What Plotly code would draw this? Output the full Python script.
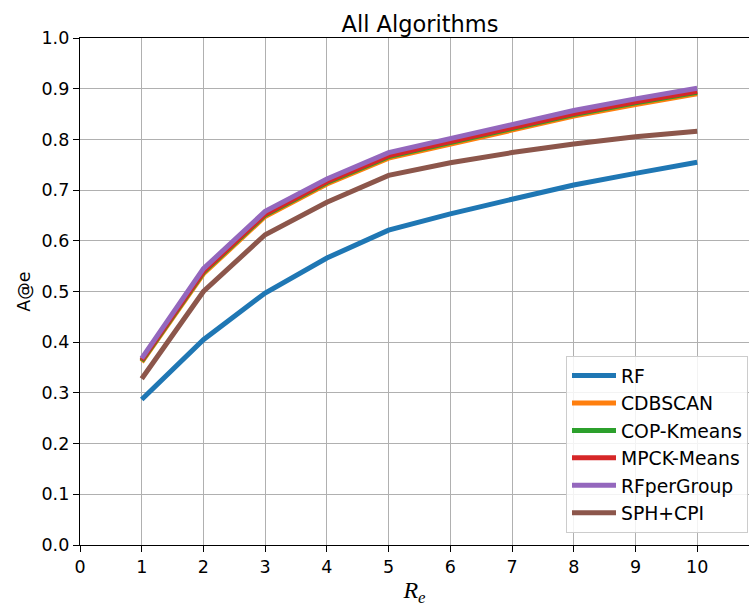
import plotly.graph_objects as go

x_vals = [1, 2, 3, 4, 5, 6, 7, 8, 9, 10]
rf = [0.287, 0.405, 0.497, 0.566, 0.621, 0.653, 0.682, 0.710, 0.733, 0.755]
cdbscan = [0.361, 0.535, 0.648, 0.712, 0.763, 0.791, 0.820, 0.846, 0.869, 0.890]
cop_kmeans = [0.363, 0.538, 0.651, 0.715, 0.766, 0.794, 0.823, 0.849, 0.872, 0.893]
mpck_means = [0.365, 0.540, 0.653, 0.717, 0.768, 0.796, 0.825, 0.851, 0.874, 0.895]
rfpergroup = [0.368, 0.545, 0.658, 0.722, 0.774, 0.802, 0.831, 0.857, 0.880, 0.901]
sph_cpi = [0.328, 0.500, 0.612, 0.676, 0.729, 0.754, 0.774, 0.791, 0.805, 0.816]

series = [
    ("RF", rf, "#1f77b4"),
    ("CDBSCAN", cdbscan, "#ff7f0e"),
    ("COP-Kmeans", cop_kmeans, "#2ca02c"),
    ("MPCK-Means", mpck_means, "#d62728"),
    ("RFperGroup", rfpergroup, "#9467bd"),
    ("SPH+CPI", sph_cpi, "#8c564b"),
]

x_ticks = list(range(0, 11))
y_ticks = [i / 10 for i in range(0, 11)]

fig = go.Figure()
for i, (name, vals, color) in enumerate(series):
    fig.add_trace(go.Scatter(
        x=x_vals, y=vals, mode="lines", name=name,
        line=dict(color=color, width=5),
        legendgroup=f"g{i}",
    ))

font_family = "DejaVu Sans"
fig.update_layout(
    width=749, height=608,
    margin=dict(l=80, r=0, t=38, b=63),
    paper_bgcolor="white", plot_bgcolor="white",
    font=dict(family=font_family, size=17.5, color="black"),
    title=dict(text="All Algorithms", x=(420 - 0) / 749, xref="container", xanchor="center",
               y=1, yref="paper", yanchor="bottom", pad=dict(b=6),
               font=dict(size=22.5, family=font_family)),
    showlegend=True,
    legend=dict(
        x=0.9985, y=0.024, xanchor="right", yanchor="bottom",
        bgcolor="rgba(255,255,255,0.85)", bordercolor="#cccccc", borderwidth=1,
        font=dict(size=18.8, family=font_family),
        traceorder="grouped", tracegroupgap=0,
        itemwidth=44,
    ),
)
fig.update_xaxes(
    range=[0, 10.84], tickmode="array", tickvals=x_ticks,
    ticktext=[str(t) for t in x_ticks],
    showgrid=True, gridcolor="#b0b0b0", gridwidth=1.4,
    showline=True, linecolor="black", linewidth=1.4, mirror=True,
    ticks="outside", ticklen=6, tickwidth=1.4, tickcolor="black",
    zeroline=False,
    title=dict(text="<i>R</i><sub><i>e</i></sub>",
               font=dict(family="Liberation Serif", size=24), standoff=4),
)
fig.update_yaxes(
    range=[0, 1.0], tickmode="array", tickvals=y_ticks,
    ticktext=[f"{t:.1f}" for t in y_ticks],
    showgrid=True, gridcolor="#b0b0b0", gridwidth=1.4,
    showline=True, linecolor="black", linewidth=1.4, mirror=False,
    ticks="outside", ticklen=6, tickwidth=1.4, tickcolor="black",
    zeroline=False,
    title=dict(text="A@e", font=dict(size=17.5, family=font_family), standoff=6),
)

fig.write_html("out.html")
